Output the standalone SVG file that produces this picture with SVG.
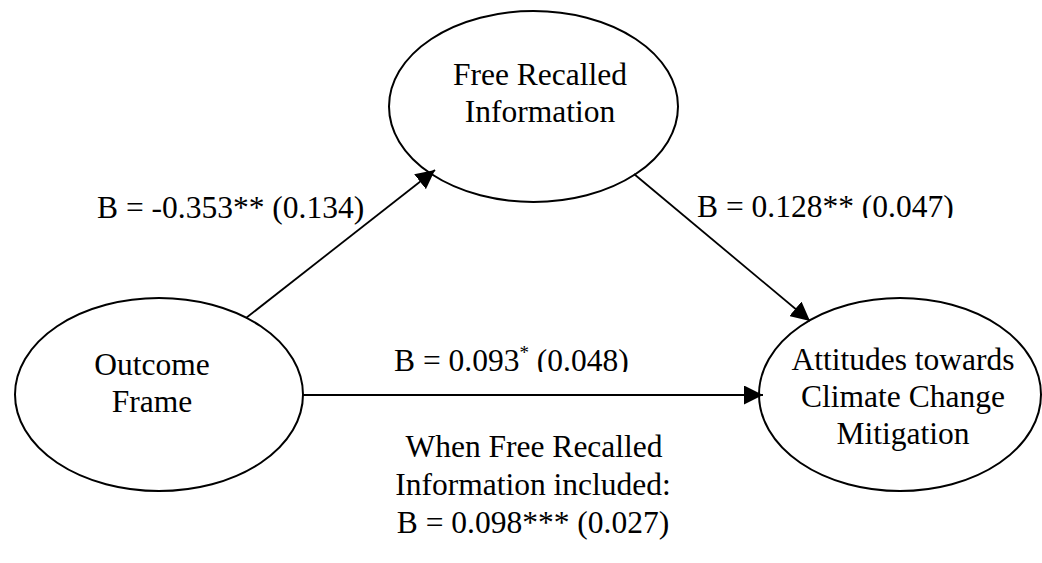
<svg xmlns="http://www.w3.org/2000/svg" width="1042" height="563" viewBox="0 0 1042 563">
  <style>
    .node { fill: #ffffff; stroke: #000000; stroke-width: 2; }
    .edge { fill: none; stroke: #000000; stroke-width: 1.8; }
    text { font-family: "Liberation Serif", "Times New Roman", serif; font-size: 31.5px; fill: #000000; }
    .mid { text-anchor: middle; }
    .sup { font-size: 19px; }
  </style>
  <defs>
    <marker id="arrow" markerWidth="19" markerHeight="19" refX="19" refY="9.5" orient="auto" markerUnits="userSpaceOnUse">
      <path d="M0,0 L19,9.5 L0,19 Z" fill="#000000"/>
    </marker>
    <!-- label boxes cut just under the baseline -->
    <clipPath id="clipB">
      <rect x="680" y="180" width="300" height="38"/>
    </clipPath>
    <clipPath id="clipC">
      <rect x="380" y="335" width="270" height="37"/>
    </clipPath>
  </defs>

  <rect width="1042" height="563" fill="#ffffff"/>

  <g id="node-recall">
    <ellipse class="node" cx="533.5" cy="106.5" rx="144.5" ry="95.5"/>
    <text class="mid" x="540" y="85">Free Recalled</text>
    <text class="mid" x="540" y="122">Information</text>
  </g>

  <g id="node-outcome">
    <ellipse class="node" cx="159" cy="394.5" rx="144" ry="96.5"/>
    <text class="mid" x="152" y="375">Outcome</text>
    <text class="mid" x="152" y="412">Frame</text>
  </g>

  <g id="node-attitudes">
    <ellipse class="node" cx="900" cy="394.5" rx="141" ry="96.5"/>
    <text class="mid" x="903" y="370">Attitudes towards</text>
    <text class="mid" x="903" y="407">Climate Change</text>
    <text class="mid" x="903" y="444">Mitigation</text>
  </g>

  <g id="connectors">
    <line class="edge" x1="246" y1="318" x2="435" y2="170" marker-end="url(#arrow)"/>
    <line class="edge" x1="634" y1="174" x2="810" y2="321" marker-end="url(#arrow)"/>
    <line class="edge" x1="303" y1="395" x2="763" y2="395" marker-end="url(#arrow)"/>
  </g>

  <g id="labels">
    <text x="97" y="218">B = -0.353** (0.134)</text>
    <text x="697" y="217" clip-path="url(#clipB)">B = 0.128** (0.047)</text>
    <text x="394" y="371" clip-path="url(#clipC)">B = 0.093<tspan class="sup" dy="-12">*</tspan><tspan dy="12"> (0.048)</tspan></text>
    <text class="mid" x="534" y="457">When Free Recalled</text>
    <text class="mid" x="533" y="495">Information included:</text>
    <text class="mid" x="533" y="533">B = 0.098*** (0.027)</text>
  </g>
</svg>
